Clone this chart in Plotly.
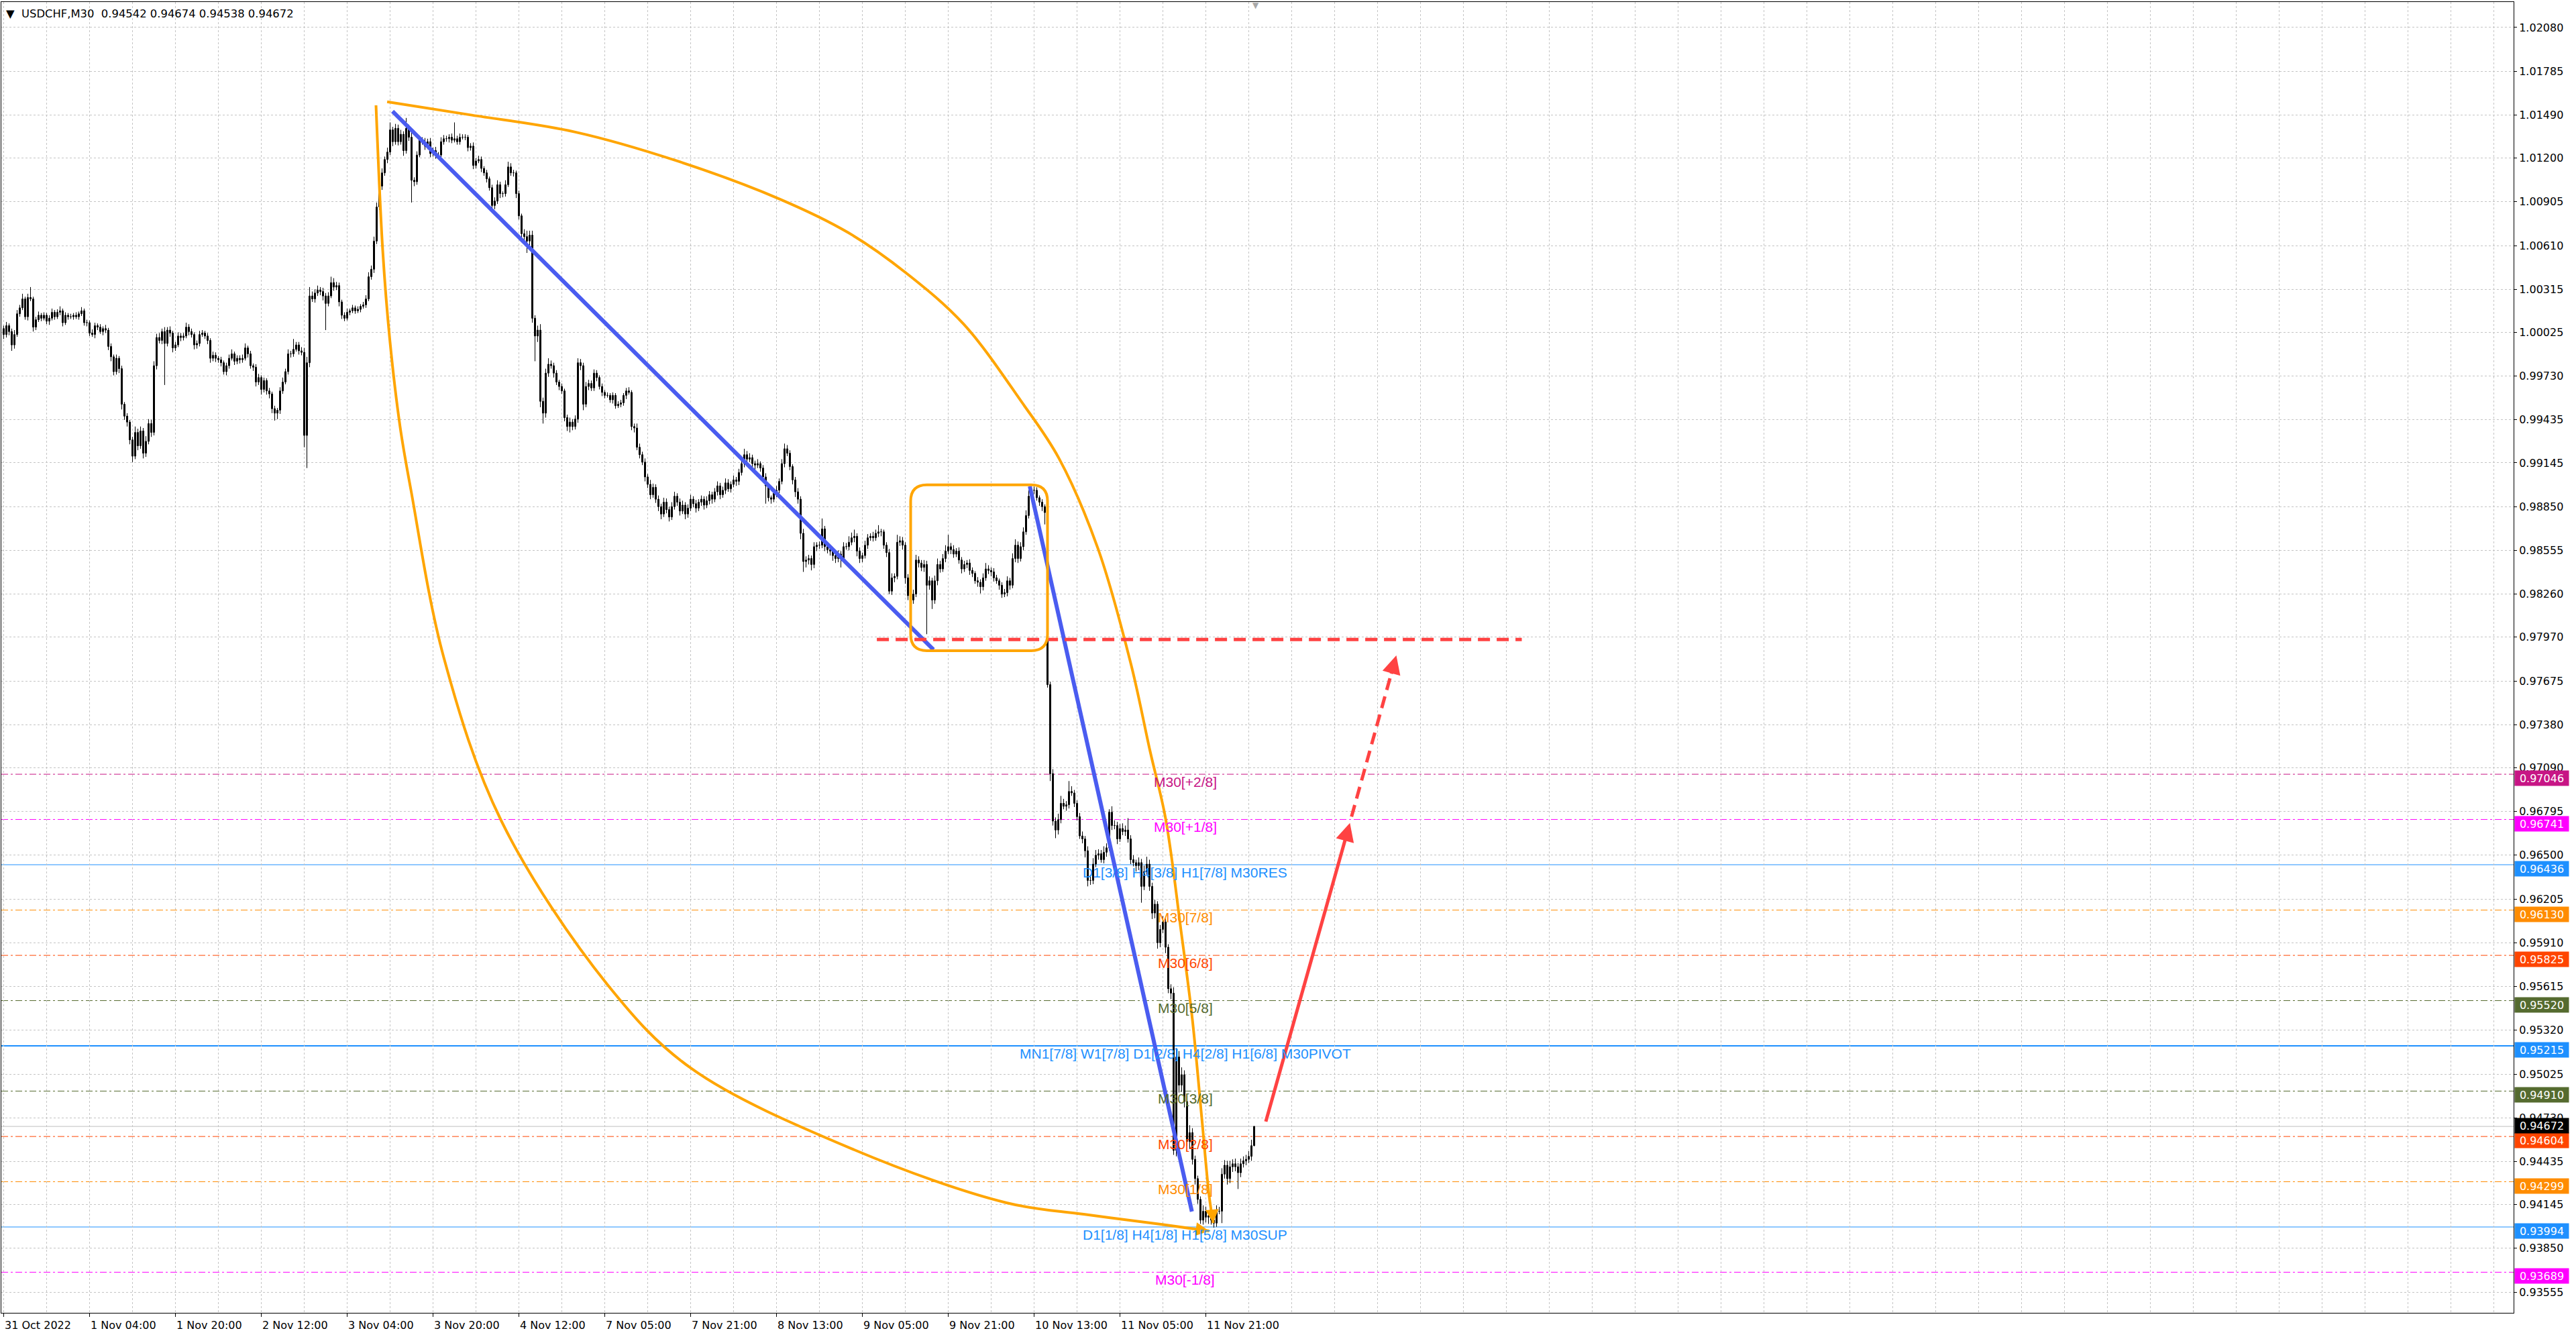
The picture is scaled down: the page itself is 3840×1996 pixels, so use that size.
import plotly.graph_objects as go

# ---------------------------------------------------------------- data
symbol = "USDCHF,M30"
first_open = 1.0005

closes = [
    1.0001, 1.0007, 1.0003, 0.9994, 1.0001, 1.0015, 1.0019, 1.0025, 1.0013, 1.0026,
    1.0025, 1.0006, 1.0011, 1.0014, 1.0012, 1.0014, 1.0010, 1.0012, 1.0016, 1.0013,
    1.0016, 1.0017, 1.0009, 1.0014, 1.0013, 1.0013, 1.0014, 1.0013, 1.0015, 1.0017,
    1.0009, 1.0009, 1.0002, 1.0001, 1.0007, 1.0006, 1.0003, 1.0005, 1.0004, 0.9993,
    0.9986, 0.9976, 0.9985, 0.9978, 0.9954, 0.9946, 0.9942, 0.9930, 0.9919, 0.9935,
    0.9926, 0.9936, 0.9921, 0.9929, 0.9941, 0.9935, 0.9980, 0.9999, 0.9997, 1.0003,
    0.9995, 1.0004, 1.0002, 0.9992, 0.9994, 1.0000, 0.9999, 1.0000, 1.0006, 1.0003,
    1.0001, 0.9994, 0.9995, 1.0001, 1.0002, 1.0000, 0.9997, 0.9985, 0.9987, 0.9985,
    0.9984, 0.9982, 0.9976, 0.9980, 0.9985, 0.9988, 0.9983, 0.9985, 0.9984, 0.9985,
    0.9992, 0.9988, 0.9980, 0.9979, 0.9969, 0.9972, 0.9964, 0.9970, 0.9963, 0.9961,
    0.9951, 0.9948, 0.9950, 0.9963, 0.9969, 0.9976, 0.9988, 0.9988, 0.9991, 0.9994,
    0.9990, 0.9989, 0.9933, 0.9982, 1.0027, 1.0025, 1.0029, 1.0031, 1.0030, 1.0027,
    1.0022, 1.0027, 1.0036, 1.0033, 1.0034, 1.0023, 1.0014, 1.0012, 1.0016, 1.0017,
    1.0019, 1.0017, 1.0018, 1.0020, 1.0021, 1.0025, 1.0040, 1.0045, 1.0064, 1.0087,
    1.0101, 1.0110, 1.0119, 1.0124, 1.0139, 1.0131, 1.0140, 1.0131, 1.0136, 1.0125,
    1.0140, 1.0134, 1.0105, 1.0104, 1.0122, 1.0132, 1.0131, 1.0128, 1.0131, 1.0123,
    1.0125, 1.0122, 1.0122, 1.0131, 1.0133, 1.0133, 1.0134, 1.0132, 1.0133, 1.0131,
    1.0134, 1.0134, 1.0134, 1.0127, 1.0128, 1.0115, 1.0118, 1.0119, 1.0113, 1.0110,
    1.0106, 1.0100, 1.0088, 1.0091, 1.0102, 1.0096, 1.0096, 1.0102, 1.0114, 1.0110,
    1.0110, 1.0096, 1.0081, 1.0069, 1.0067, 1.0064, 1.0068, 1.0012, 1.0000, 1.0004,
    0.9956, 0.9948, 0.9975, 0.9981, 0.9980, 0.9975, 0.9969, 0.9966, 0.9963, 0.9945,
    0.9939, 0.9942, 0.9939, 0.9944, 0.9982, 0.9980, 0.9954, 0.9966, 0.9968, 0.9965,
    0.9975, 0.9972, 0.9966, 0.9962, 0.9960, 0.9960, 0.9957, 0.9960, 0.9953, 0.9954,
    0.9955, 0.9960, 0.9963, 0.9962, 0.9939, 0.9938, 0.9925, 0.9920, 0.9915, 0.9905,
    0.9900, 0.9893, 0.9898, 0.9890, 0.9885, 0.9880, 0.9888, 0.9883, 0.9878, 0.9885,
    0.9892, 0.9888, 0.9882, 0.9886, 0.9880, 0.9884, 0.9890, 0.9887, 0.9884, 0.9888,
    0.9890, 0.9886, 0.9889, 0.9893, 0.9890, 0.9895, 0.9899, 0.9893, 0.9896, 0.9901,
    0.9897, 0.9900, 0.9903, 0.9902, 0.9908, 0.9914, 0.9920, 0.9917, 0.9918, 0.9914,
    0.9913, 0.9914, 0.9911, 0.9905, 0.9899, 0.9891, 0.9890, 0.9894, 0.9896, 0.9902,
    0.9914, 0.9924, 0.9921, 0.9912, 0.9903, 0.9895, 0.9890, 0.9867, 0.9848, 0.9849,
    0.9850, 0.9846, 0.9858, 0.9859, 0.9859, 0.9870, 0.9858, 0.9856, 0.9855, 0.9852,
    0.9850, 0.9853, 0.9850, 0.9858, 0.9858, 0.9861, 0.9864, 0.9865, 0.9855, 0.9850,
    0.9852, 0.9859, 0.9864, 0.9865, 0.9864, 0.9867, 0.9868, 0.9868, 0.9859, 0.9854,
    0.9828, 0.9837, 0.9838, 0.9861, 0.9862, 0.9859, 0.9837, 0.9825, 0.9822, 0.9826,
    0.9849, 0.9847, 0.9844, 0.9846, 0.9832, 0.9835, 0.9822, 0.9835, 0.9846, 0.9843,
    0.9850, 0.9855, 0.9858, 0.9856, 0.9853, 0.9855, 0.9849, 0.9843, 0.9846, 0.9847,
    0.9842, 0.9840, 0.9835, 0.9834, 0.9831, 0.9837, 0.9843, 0.9842, 0.9841, 0.9837,
    0.9835, 0.9832, 0.9826, 0.9827, 0.9835, 0.9832, 0.9850, 0.9859, 0.9850, 0.9858,
    0.9868, 0.9879, 0.9892, 0.9896, 0.9896, 0.9891, 0.9888, 0.9885, 0.9881, 0.9765,
    0.9705, 0.9673, 0.9667, 0.9674, 0.9685, 0.9683, 0.9684, 0.9693, 0.9692, 0.9685,
    0.9676, 0.9663, 0.9661, 0.9653, 0.9633, 0.9633, 0.9644, 0.9650, 0.9651, 0.9647,
    0.9652, 0.9655, 0.9679, 0.9670, 0.9670, 0.9661, 0.9668, 0.9666, 0.9667, 0.9661,
    0.9647, 0.9645, 0.9643, 0.9645, 0.9629, 0.9639, 0.9644, 0.9629, 0.9611, 0.9617,
    0.9591, 0.9600, 0.9605, 0.9588, 0.9560, 0.9557, 0.9451, 0.9514, 0.9495, 0.9502,
    0.9484, 0.9457, 0.9463, 0.9445, 0.9432, 0.9418, 0.9404, 0.9410, 0.9406, 0.9407,
    0.9404, 0.9402, 0.9410, 0.9410, 0.9435, 0.9441, 0.9432, 0.9440, 0.9442, 0.9440,
    0.9436, 0.9442, 0.9444, 0.9445, 0.9447, 0.94542, 0.94672,
]

# wick lengths beyond the candle body, in points (0.00001)
upper_wick_points = [
    20, 25, 15, 20, 30, 25, 20, 35, 15, 25,
    70, 15, 20, 25, 15, 20, 15, 20, 25, 15,
    20, 30, 15, 20, 15, 20, 15, 20, 15, 25,
    15, 20, 15, 25, 20, 15, 20, 15, 25, 15,
    20, 15, 25, 15, 20, 15, 20, 15, 20, 40,
    25, 30, 20, 35, 30, 25, 30, 25, 30, 20,
    30, 20, 25, 15, 20, 25, 20, 20, 30, 20,
    20, 15, 20, 25, 20, 15, 20, 15, 25, 20,
    15, 20, 15, 20, 25, 30, 15, 20, 20, 25,
    30, 15, 20, 15, 20, 25, 15, 20, 15, 20,
    15, 20, 15, 25, 30, 20, 30, 20, 70, 20,
    20, 25, 30, 40, 60, 30, 25, 30, 20, 25,
    20, 25, 40, 30, 25, 20, 15, 20, 25, 15,
    20, 15, 20, 15, 20, 25, 30, 25, 30, 30,
    25, 30, 20, 30, 50, 20, 30, 25, 30, 20,
    70, 25, 30, 20, 25, 30, 20, 25, 20, 25,
    20, 25, 20, 30, 25, 20, 20, 25, 110, 20,
    25, 20, 20, 15, 20, 25, 20, 25, 20, 15,
    20, 15, 20, 25, 30, 20, 15, 30, 35, 25,
    20, 15, 20, 15, 30, 40, 30, 30, 20, 30,
    40, 25, 30, 40, 25, 20, 20, 15, 20, 15,
    20, 30, 20, 25, 30, 25, 20, 30, 25, 20,
    25, 20, 15, 20, 15, 20, 15, 20, 15, 20,
    20, 15, 20, 25, 15, 20, 30, 25, 20, 25,
    20, 30, 25, 20, 25, 20, 30, 25, 20, 30,
    30, 20, 25, 30, 20, 25, 30, 20, 25, 20,
    25, 20, 30, 25, 20, 25, 30, 20, 25, 30,
    25, 20, 30, 20, 25, 30, 40, 25, 30, 20,
    20, 30, 15, 20, 25, 20, 15, 25, 30, 20,
    30, 35, 25, 20, 15, 20, 25, 20, 30, 25,
    25, 20, 30, 20, 25, 70, 20, 25, 20, 15,
    20, 25, 20, 30, 25, 40, 35, 45, 20, 25,
    20, 30, 25, 20, 30, 25, 45, 20, 15, 20,
    25, 30, 20, 50, 30, 25, 20, 25, 20, 30,
    35, 25, 20, 30, 25, 30, 20, 35, 40, 25,
    30, 40, 80, 25, 30, 20, 25, 20, 25, 20,
    25, 20, 15, 25, 20, 30, 40, 25, 20, 25,
    20, 15, 20, 25, 30, 20, 35, 40, 25, 30,
    30, 35, 40, 20, 25, 20, 15, 20, 15, 20,
    20, 30, 25, 40, 50, 30, 25, 70, 35, 20,
    20, 25, 30, 20, 30, 25, 40, 35, 30, 25,
    40, 30, 20, 40, 35, 25, 30, 35, 30, 80,
    25, 30, 20, 35, 25, 40, 50, 30, 25, 30,
    20, 30, 40, 25, 20, 30, 40, 60, 40, 50,
    30, 40, 50, 30, 25, 20, 20, 40, 30, 35,
    20, 25, 40, 30, 40, 35, 30, 40, 30, 35,
    25, 35, 30, 30, 35, 40, 2,
]

lower_wick_points = [
    30, 20, 25, 40, 25, 15, 20, 15, 20, 25,
    15, 30, 20, 15, 20, 15, 20, 25, 15, 20,
    15, 20, 25, 15, 20, 15, 20, 15, 20, 15,
    20, 25, 20, 15, 25, 20, 15, 25, 20, 25,
    30, 25, 20, 30, 35, 25, 30, 30, 40, 20,
    30, 20, 35, 25, 20, 30, 20, 25, 20, 25,
    280, 20, 25, 30, 20, 15, 25, 20, 15, 25,
    20, 30, 25, 20, 15, 20, 25, 30, 20, 25,
    20, 25, 20, 25, 20, 15, 25, 20, 25, 20,
    15, 25, 20, 25, 30, 20, 35, 20, 25, 30,
    30, 50, 40, 25, 20, 15, 20, 25, 20, 15,
    25, 20, 80, 220, 30, 20, 25, 20, 25, 30,
    180, 20, 15, 25, 20, 30, 25, 20, 15, 20,
    15, 20, 15, 20, 15, 20, 15, 20, 25, 20,
    20, 25, 20, 25, 20, 30, 20, 25, 20, 35,
    20, 25, 150, 30, 20, 15, 20, 25, 20, 25,
    20, 25, 20, 15, 20, 20, 25, 20, 15, 20,
    20, 15, 20, 25, 20, 25, 20, 15, 25, 20,
    25, 20, 40, 25, 20, 30, 25, 20, 15, 20,
    25, 30, 25, 30, 40, 80, 30, 30, 170, 40,
    40, 70, 30, 25, 20, 30, 20, 25, 20, 25,
    30, 40, 25, 20, 25, 30, 40, 20, 25, 20,
    20, 25, 20, 25, 20, 15, 20, 25, 20, 15,
    20, 20, 25, 15, 25, 30, 20, 25, 20, 30,
    25, 30, 20, 25, 30, 35, 20, 25, 30, 20,
    20, 25, 30, 20, 35, 25, 20, 25, 30, 20,
    25, 30, 20, 25, 30, 20, 25, 30, 20, 25,
    20, 25, 20, 30, 25, 20, 25, 30, 20, 25,
    30, 20, 25, 25, 120, 25, 30, 20, 25, 20,
    20, 25, 20, 25, 30, 35, 30, 40, 70, 40,
    30, 40, 25, 30, 25, 20, 30, 25, 30, 35,
    30, 25, 60, 25, 20, 25, 20, 30, 35, 30,
    25, 20, 25, 20, 25, 20, 25, 30, 25, 30,
    20, 25, 30, 20, 25, 30, 40, 30, 40, 25,
    20, 30, 25, 30, 330, 30, 60, 25, 30, 25,
    20, 25, 20, 30, 25, 20, 25, 30, 20, 25,
    30, 25, 20, 30, 45, 25, 20, 25, 30, 25,
    20, 30, 25, 20, 25, 30, 20, 25, 30, 20,
    25, 20, 20, 30, 25, 20, 25, 30, 80, 20,
    50, 30, 55, 30, 25, 20, 30, 25, 20, 25,
    25, 20, 30, 45, 40, 30, 25, 20, 30, 20,
    25, 30, 20, 30, 25, 35, 20, 25, 30, 25,
    30, 25, 40, 30, 110, 25, 20, 30, 40, 35,
    40, 30, 25, 40, 30, 40, 30, 40, 50, 45,
    40, 30, 50, 35, 40, 30, 25, 30, 35, 45,
    30, 30, 25, 20, 80, 30, 40, 30, 35, 30,
    110, 30, 25, 30, 25, 30, 4,
]

time_label_bars = [0, 32, 64, 96, 128, 160, 192, 224, 256, 288, 320, 352, 384, 416, 448]
time_labels = ["31 Oct 2022", "1 Nov 04:00", "1 Nov 20:00", "2 Nov 12:00", "3 Nov 04:00",
               "3 Nov 20:00", "4 Nov 12:00", "7 Nov 05:00", "7 Nov 21:00", "8 Nov 13:00",
               "9 Nov 05:00", "9 Nov 21:00", "10 Nov 13:00", "11 Nov 05:00", "11 Nov 21:00"]

price_ticks = [1.02080, 1.01785, 1.01490, 1.01200, 1.00905, 1.00610, 1.00315, 1.00025,
               0.99730, 0.99435, 0.99145, 0.98850, 0.98555, 0.98260, 0.97970, 0.97675,
               0.97380, 0.97090, 0.96795, 0.96500, 0.96205, 0.95910, 0.95615, 0.95320,
               0.95025, 0.94730, 0.94435, 0.94145, 0.93850, 0.93555]

level_values = [0.97046, 0.96741, 0.96436, 0.96130, 0.95825, 0.95520, 0.95215,
                0.94910, 0.94604, 0.94299, 0.93994, 0.93689]
level_names = ["M30[+2/8]", "M30[+1/8]", "D1[3/8] H4[3/8] H1[7/8] M30RES", "M30[7/8]",
               "M30[6/8]", "M30[5/8]", "MN1[7/8] W1[7/8] D1[2/8] H4[2/8] H1[6/8] M30PIVOT",
               "M30[3/8]", "M30[2/8]", "M30[1/8]", "D1[1/8] H4[1/8] H1[5/8] M30SUP", "M30[-1/8]"]
level_label_bar = 440.25

# drawn objects: anchor points as (bar, price)
trend_down1_bars = [144.9, 346.5]
trend_down1_prices = [1.01515, 0.97886]
trend_down2_bars = [382.4, 442.8]
trend_down2_prices = [0.98987, 0.94098]

arc_right_bars = [142.9, 174.5, 212.75, 251.0, 289.25, 314.75, 336.25, 357.75, 379.5,
                  393.25, 407.75, 420.1, 427.25, 433.0, 438.75, 443.0, 446.5, 449.25, 450.75]
arc_right_prices = [1.01579, 1.01489, 1.01376, 1.01180, 1.00923, 1.00697, 1.00426, 1.00080,
                    0.99552, 0.99176, 0.98570, 0.97788, 0.97200, 0.96748, 0.95993, 0.95391,
                    0.94727, 0.94202, 0.94021]
arc_left_bars = [138.75, 141.25, 143.9, 147.75, 151.75, 164.0, 185.5, 225.25, 256.0,
                 317.0, 373.75, 402.5, 431.25, 449.25]
arc_left_prices = [1.01555, 1.00578, 0.99974, 0.99386, 0.98964, 0.97833, 0.96730, 0.95622,
                   0.95066, 0.94514, 0.94157, 0.94080, 0.94012, 0.93967]

range_box = dict(bar0=338, bar1=389, low=0.97879, high=0.98997)
target_level = 0.97954
target_bars = [325.4, 565.75]
up_arrow_bars = [470.25, 501.7]
up_arrow_prices = [0.94698, 0.96718]
up_dash_bars = [502.3, 519.0]
up_dash_prices = [0.96760, 0.97847]

# ---------------------------------------------------------------- styles
C_ORANGE = "#FFA500"
C_BLUE = "#4A5CF0"
C_RED = "#FF4242"
GRID = "#C4C4C4"
level_styles = {
    "M30[+2/8]": ("#C71585", "dashdot", 1),
    "M30[+1/8]": ("#FF00FF", "dashdot", 1),
    "M30RES": ("#1E90FF", "solid", 1),
    "M30[7/8]": ("#FF8C00", "dashdot", 1),
    "M30[6/8]": ("#FF4500", "dashdot", 1),
    "M30[5/8]": ("#556B2F", "dashdot", 1),
    "M30PIVOT": ("#1E90FF", "solid", 2),
    "M30[3/8]": ("#556B2F", "dashdot", 1),
    "M30[2/8]": ("#FF4500", "dashdot", 1),
    "M30[1/8]": ("#FF8C00", "dashdot", 1),
    "M30SUP": ("#1E90FF", "solid", 1),
    "M30[-1/8]": ("#FF00FF", "dashdot", 1),
}


def style_for(name):
    return level_styles[name.split(" ")[-1]]


AXIS_FONT = dict(family="DejaVu Sans, Verdana, sans-serif", size=16, color="black")
LABEL_FONT = "Liberation Sans, Arial, sans-serif"

# ---------------------------------------------------------------- build
n = len(closes)
bars = list(range(n))
opens = [first_open] + closes[:-1]
highs = [round(max(o, c) + u * 1e-5, 5) for o, c, u in zip(opens, closes, upper_wick_points)]
lows = [round(min(o, c) - w * 1e-5, 5) for o, c, w in zip(opens, closes, lower_wick_points)]

fig = go.Figure()

# candle wicks
wick_x, wick_y = [], []
for i, lo_, hi_ in zip(bars, lows, highs):
    wick_x += [i, i, None]
    wick_y += [lo_, hi_, None]
fig.add_trace(go.Scatter(x=wick_x, y=wick_y, mode="lines", line=dict(color="black", width=1),
                         hoverinfo="skip", showlegend=False))

# candle bodies
body_base = [min(o, c) for o, c in zip(opens, closes)]
body_len = [max(abs(c - o), 0.000005) for o, c in zip(opens, closes)]
body_fill = ["white" if c > o else "black" for o, c in zip(opens, closes)]
fig.add_trace(go.Bar(x=bars, y=body_len, base=body_base, width=0.5,
                     marker=dict(color=body_fill, line=dict(color="black", width=1)),
                     hoverinfo="skip", showlegend=False))

# level lines
shapes = []
for v, name in zip(level_values, level_names):
    color, kind, w = style_for(name)
    dash = "solid" if kind == "solid" else "10px,4px,3px,4px"
    shapes.append(dict(type="line", xref="paper", x0=0, x1=1, yref="y", y0=v, y1=v,
                       line=dict(color=color, width=w, dash=dash), layer="below"))
# current price line
shapes.append(dict(type="line", xref="paper", x0=0, x1=1, yref="y", y0=closes[-1], y1=closes[-1],
                   line=dict(color="#BEBEBE", width=1), layer="below"))

# rounded orange range box
b0, b1, lo, hi = range_box["bar0"], range_box["bar1"], range_box["low"], range_box["high"]
rx, ry = 6.0, 0.00110
path = (f"M {b0+rx},{hi} L {b1-rx},{hi} Q {b1},{hi} {b1},{hi-ry} L {b1},{lo+ry} "
        f"Q {b1},{lo} {b1-rx},{lo} L {b0+rx},{lo} Q {b0},{lo} {b0},{lo+ry} "
        f"L {b0},{hi-ry} Q {b0},{hi} {b0+rx},{hi} Z")
shapes.append(dict(type="path", xref="x", yref="y", path=path,
                   line=dict(color=C_ORANGE, width=4), layer="above"))

fig.update_layout(shapes=shapes)

# orange arcs
for bx, py in ((arc_left_bars, arc_left_prices), (arc_right_bars, arc_right_prices)):
    fig.add_trace(go.Scatter(x=bx, y=py, mode="lines",
                             line=dict(color=C_ORANGE, width=4, shape="spline", smoothing=1.0),
                             hoverinfo="skip", showlegend=False))

# blue trend lines
for bx, py in ((trend_down1_bars, trend_down1_prices), (trend_down2_bars, trend_down2_prices)):
    fig.add_trace(go.Scatter(x=bx, y=py, mode="lines", line=dict(color=C_BLUE, width=6),
                             hoverinfo="skip", showlegend=False))

# red dashed target line
fig.add_trace(go.Scatter(x=target_bars, y=[target_level, target_level], mode="lines",
                         line=dict(color=C_RED, width=5, dash="18px,10px"),
                         hoverinfo="skip", showlegend=False))
# red dashed continuation
fig.add_trace(go.Scatter(x=up_dash_bars, y=up_dash_prices, mode="lines",
                         line=dict(color=C_RED, width=5, dash="18px,10px"),
                         hoverinfo="skip", showlegend=False))

annotations = []


def arrow(tip_x, tip_y, tail_x, tail_y, color, width, size):
    annotations.append(dict(x=tip_x, y=tip_y, ax=tail_x, ay=tail_y, xref="x", yref="y",
                            axref="x", ayref="y", text="", showarrow=True, arrowhead=2,
                            arrowsize=size, arrowwidth=width, arrowcolor=color))


# solid red arrow (whole line)
arrow(up_arrow_bars[1], up_arrow_prices[1], up_arrow_bars[0], up_arrow_prices[0], C_RED, 5, 1.1)
# head of dashed red arrow
arrow(up_dash_bars[1], up_dash_prices[1], up_dash_bars[1] - 2.0, up_dash_prices[1] - 0.0013, C_RED, 5, 1.1)
# heads of orange arcs
arrow(arc_left_bars[-1], arc_left_prices[-1], arc_left_bars[-1] - 4.0, arc_left_prices[-1] + 0.00010, C_ORANGE, 4, 1.0)
arrow(arc_right_bars[-1], arc_right_prices[-1], arc_right_bars[-1] - 0.4, arc_right_prices[-1] + 0.0008, C_ORANGE, 4, 1.0)

# level texts
for v, name in zip(level_values, level_names):
    color, kind, w = style_for(name)
    annotations.append(dict(x=level_label_bar, y=v, xref="x", yref="y", text=name, showarrow=False,
                            xanchor="center", yanchor="middle", yshift=-11,
                            font=dict(family=LABEL_FONT, size=21, color=color)))

# price tags on the right axis (current price drawn last, centred on its line)
tag_list = [(v, style_for(name)[0], -6) for v, name in zip(level_values, level_names)]
tag_list.append((closes[-1], "#000000", 1))
for v, color, shift in tag_list:
    annotations.append(dict(x=1, xref="paper", xanchor="left", xshift=1, y=v, yref="y", yshift=shift,
                            text=f"{v:.5f}", showarrow=False, bgcolor=color, width=76, height=18,
                            borderpad=2, align="center",
                            font=dict(family=AXIS_FONT["family"], size=16, color="white")))

# time labels
for b, t in zip(time_label_bars, time_labels):
    annotations.append(dict(x=b, xref="x", y=0, yref="paper", text=t, showarrow=False,
                            xanchor="left", yanchor="top", yshift=-7, xshift=-1, font=AXIS_FONT))

# header
header = (f"\u25bc  {symbol}  {opens[-1]:.5f} {highs[-1]:.5f} {lows[-1]:.5f} {closes[-1]:.5f}")
annotations.append(dict(x=0, xref="paper", y=1, yref="paper", xanchor="left", yanchor="top",
                        xshift=5, yshift=-6, text=header, showarrow=False,
                        font=dict(family=AXIS_FONT["family"], size=16.4, color="black")))
# chart shift marker
annotations.append(dict(x=n - 0.5, xref="x", y=1, yref="paper", xanchor="center", yanchor="top",
                        yshift=4, text="\u25bc", showarrow=False,
                        font=dict(family=AXIS_FONT["family"], size=12, color="#A8A8A8")))

fig.update_layout(
    annotations=annotations,
    width=3840, height=1996,
    margin=dict(l=2, r=93, t=3, b=39),
    paper_bgcolor="white", plot_bgcolor="white",
    showlegend=False, dragmode=False,
    xaxis=dict(
        range=[-0.875, 935.375],
        tickmode="array", tickvals=time_label_bars, ticks="outside", ticklen=5, tickcolor="black",
        showticklabels=False, showgrid=True, gridcolor=GRID, griddash="3px,3px", gridwidth=1,
        minor=dict(tickmode="linear", tick0=0, dtick=16, showgrid=True, gridcolor=GRID,
                   griddash="3px,3px", gridwidth=1, ticks=""),
        showline=True, linecolor="black", linewidth=1, mirror=True, zeroline=False, fixedrange=True,
    ),
    yaxis=dict(
        side="right", range=[0.934152, 1.022516],
        tickmode="array", tickvals=price_ticks, ticktext=[f"{v:.5f}" for v in price_ticks],
        ticks="outside", ticklen=4, tickcolor="black", tickfont=AXIS_FONT,
        showgrid=True, gridcolor=GRID, griddash="3px,3px", gridwidth=1,
        showline=True, linecolor="black", linewidth=1, mirror=True, zeroline=False, fixedrange=True,
    ),
)

fig.write_html("out.html", include_plotlyjs=True, full_html=True,
               config=dict(displayModeBar=False),
               post_script="document.body.style.margin='0';document.body.style.overflow='hidden';")
